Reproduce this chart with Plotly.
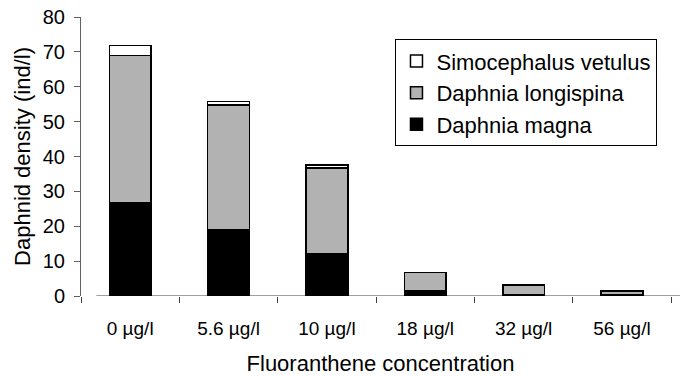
import plotly.graph_objects as go

categories = ["0 µg/l", "5.6 µg/l", "10 µg/l", "18 µg/l", "32 µg/l", "56 µg/l"]
daphnia_magna = [26.8, 18.9, 12.1, 1.4, 0.5, 0.3]
daphnia_longispina = [42.2, 35.9, 24.6, 5.4, 2.65, 1.2]
simocephalus_vetulus = [2.8, 1.0, 0.8, 0.0, 0.0, 0.0]
y_ticks = [0, 10, 20, 30, 40, 50, 60, 70, 80]

FONT = "Liberation Sans, Arial, sans-serif"
line = dict(color="black", width=1.5)

fig = go.Figure()
fig.add_trace(go.Bar(name="Daphnia magna", x=categories, y=daphnia_magna,
                     marker=dict(color="black", line=line)))
fig.add_trace(go.Bar(name="Daphnia longispina", x=categories, y=daphnia_longispina,
                     marker=dict(color="#b2b2b2", line=line)))
fig.add_trace(go.Bar(name="Simocephalus vetulus", x=categories, y=simocephalus_vetulus,
                     marker=dict(color="white", line=line)))

fig.update_layout(
    width=682, height=376,
    barmode="stack", bargap=0.576,
    plot_bgcolor="white", paper_bgcolor="white",
    margin=dict(l=81, r=2, t=17, b=80),
    font=dict(family=FONT, size=19, color="black"),
    showlegend=True,
    legend=dict(
        traceorder="reversed",
        x=0.525, y=0.92, xanchor="left", yanchor="top",
        bordercolor="black", borderwidth=1, bgcolor="white",
        font=dict(family=FONT, size=22, color="black"),
        itemwidth=30, tracegroupgap=0,
    ),
)

fig.update_xaxes(
    range=[-0.5, 5.59], automargin=False,
    showline=False, showgrid=False, zeroline=False,
    ticks="outside", tickson="boundaries", ticklen=6, tickcolor="#404040",
    ticklabelstandoff=19, ticklabeloverflow="allow",
    tickfont=dict(family=FONT, size=19),
    title=dict(text="Fluoranthene concentration", font=dict(family=FONT, size=22), standoff=26),
)
fig.update_yaxes(
    range=[0, 80], tickvals=y_ticks, automargin=False,
    showline=True, linecolor="#606060", linewidth=1,
    showgrid=False, zeroline=False,
    ticks="outside", ticklen=6, tickcolor="#606060",
    ticklabelstandoff=5, ticklabeloverflow="allow",
    tickfont=dict(family=FONT, size=20),
    title=dict(text="Daphnid density (ind/l)", font=dict(family=FONT, size=22), standoff=6),
)

# x-axis baseline
fig.add_shape(type="line", xref="x", yref="y", x0=-0.344, x1=5.59, y0=0, y1=0,
              line=dict(color="#808080", width=1.5), layer="below")

# remove the browser's default page margin so the figure fills the window exactly
fig.write_html("out.html", config={"displayModeBar": False},
               post_script="document.body.style.margin='0';")
